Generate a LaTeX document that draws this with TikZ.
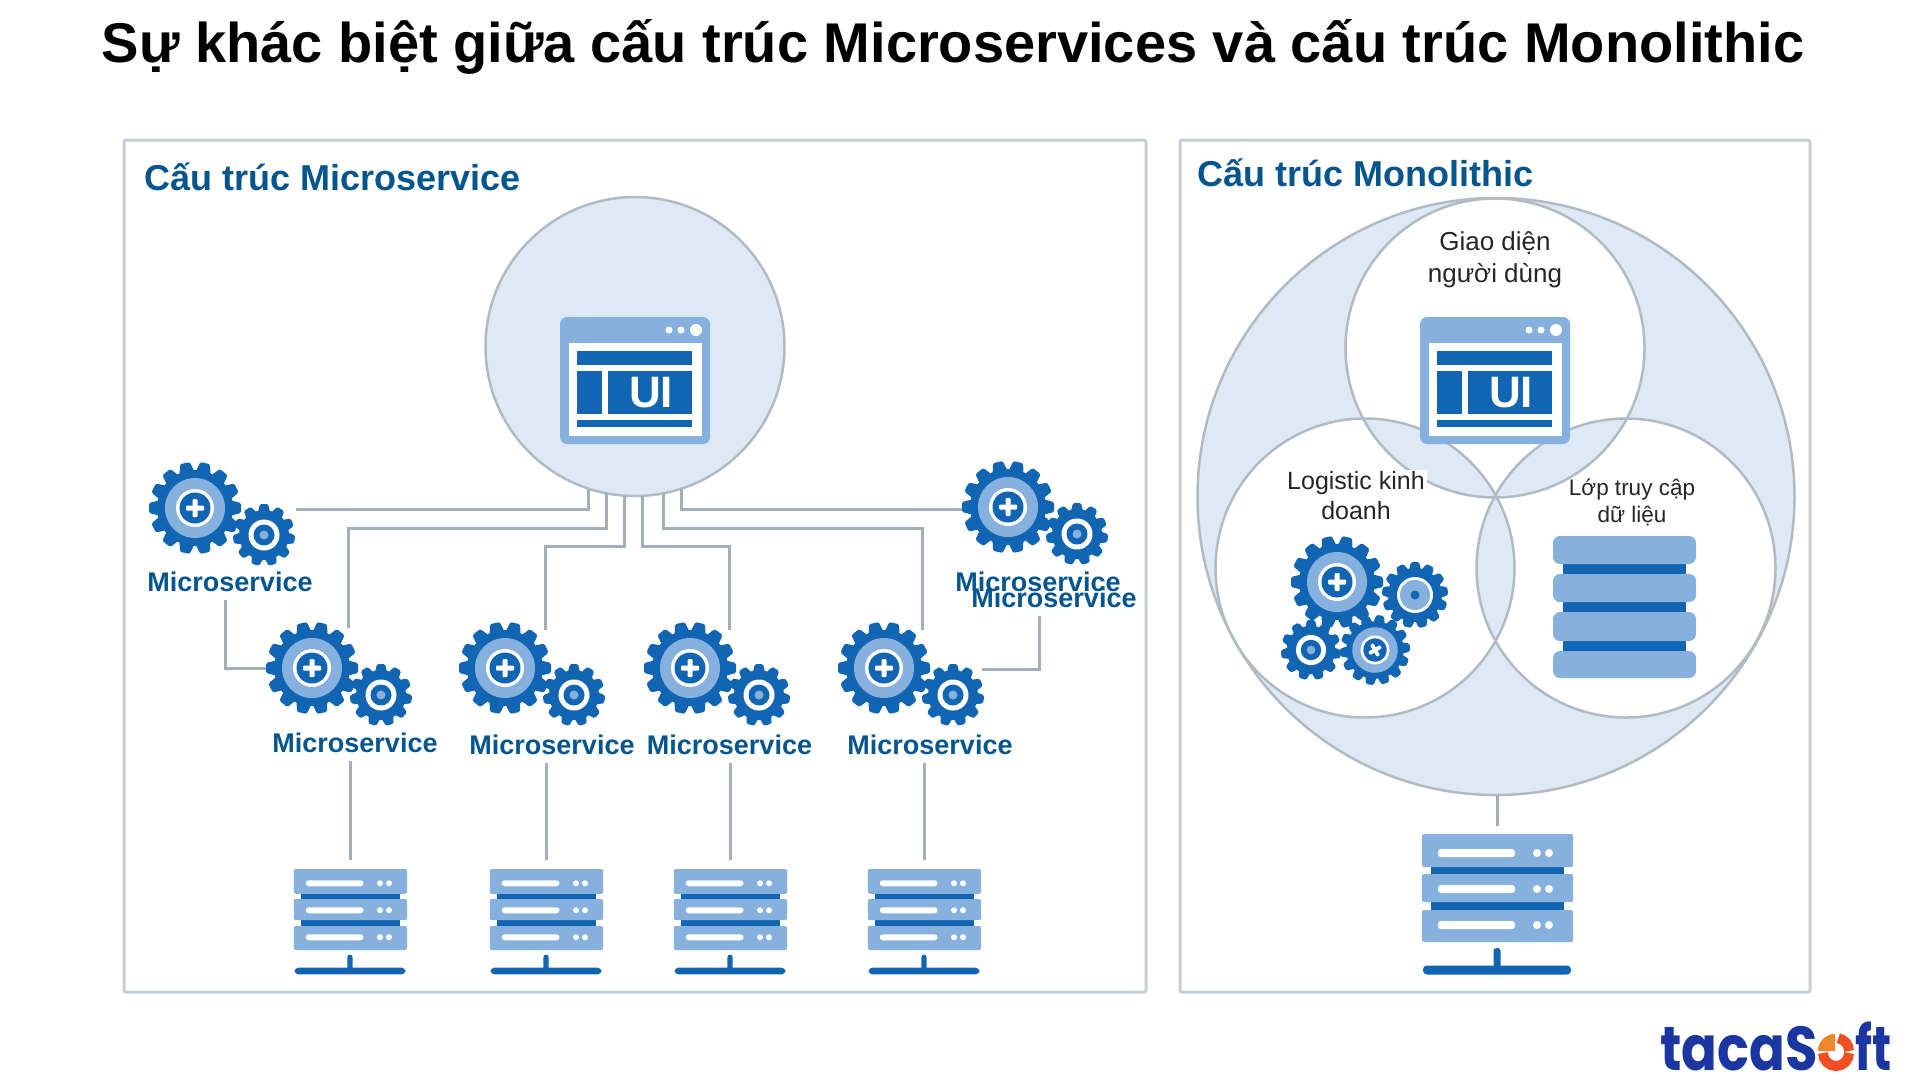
\documentclass[tikz,border=0pt]{standalone}
\usepackage{xcolor}
\usepackage{fontspec}
\setmainfont{Liberation Sans}
\newfontfamily\logofont{Poppins}
\usetikzlibrary{positioning, calc}
\definecolor{gearblue}{HTML}{1165B2}
\definecolor{lightblue}{HTML}{86B1DF}
\definecolor{paleblue}{HTML}{DDEAF5}
\definecolor{headblue}{HTML}{05558F}
\definecolor{linegray}{HTML}{A3AFBA}
\definecolor{framegray}{HTML}{C6CFD7}
\definecolor{logoblue}{HTML}{1B36A0}
\definecolor{logoorange}{HTML}{F0872A}
\definecolor{logored}{HTML}{F04E23}
\tikzset{
    panel/.style={draw=framegray, line width=3pt, fill=white, rounded corners=2pt},
    bubble/.style={circle, draw=linegray!85, line width=2.5pt, fill=paleblue, minimum size=299pt, inner sep=0pt, outer sep=0pt},
    link/.style={draw=linegray, line width=3pt},
    heading/.style={font=\fontsize{36}{42}\selectfont\bfseries, text=headblue, anchor=west, inner sep=0pt},
    mslabel/.style={font=\fontsize{27}{32}\selectfont\bfseries, text=headblue, minimum height=36pt, inner sep=0pt, outer sep=0pt},
    bodytext/.style={align=center, text=black!85, inner sep=2pt},
    gearspot/.style={circle, minimum size=92pt, inner sep=0pt, outer sep=0pt},
    srvspot/.style={minimum width=113pt, minimum height=130pt, inner sep=0pt, outer sep=0pt},
    logotext/.style={inner sep=0pt, text=logoblue, font=\logofont\fontsize{62}{62}\selectfont\bfseries},
    % big gear, radius 46
    biggear/.pic={
        \foreach \a in {0,25.71,...,340} {
            \fill[gearblue, rotate=\a+12.85, rounded corners=1.5pt] (-7.5,-36) -- (-5,-46) -- (5,-46) -- (7.5,-36) -- cycle;
        }
        \fill[gearblue] (0,0) circle[radius=38];
        \fill[lightblue] (0,0) circle[radius=30];
        \fill[white] (0,0) circle[radius=19];
        \fill[gearblue] (0,0) circle[radius=15.5];
        \fill[white, rounded corners=1pt] (-9,-2.5) rectangle (9,2.5);
        \fill[white, rounded corners=1pt] (-2.5,-9) rectangle (2.5,9);
    },
    % small gear, radius 31
    smallgear/.pic={
        \foreach \a in {0,32.73,...,340} {
            \fill[gearblue, rotate=\a, rounded corners=1.5pt] (-6,-23) -- (-4,-31) -- (4,-31) -- (6,-23) -- cycle;
        }
        \fill[gearblue] (0,0) circle[radius=25];
        \fill[white] (0,0) circle[radius=15.5];
        \fill[gearblue] (0,0) circle[radius=10.5];
        \fill[lightblue] (0,0) circle[radius=4.5];
    },
    % gear with the pale hub, radius 33
    hubgear/.pic={
        \foreach \a in {0,27.7,...,340} {
            \fill[gearblue, rotate=\a, rounded corners=1.5pt] (-6,-25) -- (-4,-33) -- (4,-33) -- (6,-25) -- cycle;
        }
        \fill[gearblue] (0,0) circle[radius=27];
        \fill[white] (0,0) circle[radius=18];
        \fill[lightblue] (0,0) circle[radius=15];
        \fill[gearblue] (0,0) circle[radius=4.5];
    },
    % the pair that goes with each label
    gearpair/.pic={
        \pic at (0,0) {biggear};
        \pic at (69,27) {smallgear};
    },
    uiicon/.pic={
        \fill[lightblue, rounded corners=7pt] (-75,0) rectangle (75,127);
        \fill[white] (-66,26) rectangle (67,119);
        \fill[gearblue] (-58,34) rectangle (57,48);
        \fill[gearblue] (-58,54) rectangle (-33,97);
        \fill[gearblue] (-27,54) rectangle (57,97);
        \fill[gearblue] (-58,103) rectangle (57,110);
        \fill[white] (34,13) circle[radius=3.5];
        \fill[white] (46,13) circle[radius=3.5];
        \fill[white] (61,13) circle[radius=6];
        \node[text=white, inner sep=0pt, font=\fontsize{44}{44}\selectfont\bfseries] (-txt) at (16,76) {UI};
    },
    serverstack/.pic={
        \fill[gearblue] (-66,31) rectangle (67,42);
        \fill[gearblue] (-66,66) rectangle (67,78);
        \foreach \top/\bot in {0/33, 40/68, 76/108} {
            \fill[lightblue, rounded corners=2pt] (-75,\top) rectangle (76,\bot);
        }
        \foreach \y in {19,55,91} {
            \fill[white, rounded corners=3pt] (-59,\y-4) rectangle (18,\y+4);
            \fill[white] (40,\y) circle[radius=4];
            \fill[white] (52,\y) circle[radius=4];
        }
        \fill[gearblue, rounded corners=3pt] (-3.5,114) rectangle (3.5,136);
        \fill[gearblue, rounded corners=4pt] (-74,131.5) rectangle (74,140.5);
    }
}

\begin{document}
\begin{tikzpicture}[x=1pt, y=-1pt]
    \useasboundingbox (0,0) rectangle (1920,1080);
    \fill[white] (0,0) rectangle (1920,1080);

    % Title
    \node[inner sep=0pt, font=\fontsize{56}{64}\selectfont\bfseries] (title) at (953,47) {Sự khác biệt giữa cấu trúc Microservices và cấu trúc Monolithic};

    % Panels
    \draw[panel] (124,140) rectangle (1146,992);
    \draw[panel] (1180,140) rectangle (1810,992);
    \node[heading] (headL) at (144,177) {Cấu trúc Microservice};
    \node[heading] (headR) at (1197,173) {Cấu trúc Monolithic};

    % Microservice side
    \node[bubble] (ui) at (635,346.5) {};
    \pic (uiL) at (635,317) {uiicon};

    \node[gearspot] (gearA) at (195,508) {}; \pic at (gearA) {gearpair};
    \node[gearspot] (gearB) at (312,668) {}; \pic at (gearB) {gearpair};
    \node[gearspot] (gearC) at (505,668) {}; \pic at (gearC) {gearpair};
    \node[gearspot] (gearD) at (690,668) {}; \pic at (gearD) {gearpair};
    \node[gearspot] (gearE) at (884,668) {}; \pic at (gearE) {gearpair};
    \node[gearspot] (gearF) at (1008,507) {}; \pic at (gearF) {gearpair};

    \node[mslabel] (msA) at (230,582) {Microservice};
    \node[mslabel] (msB) at (355,743) {Microservice};
    \node[mslabel] (msC) at (552,745) {Microservice};
    \node[mslabel] (msD) at (729.5,745) {Microservice};
    \node[mslabel] (msE) at (930,745) {Microservice};
    \node[mslabel] (msF) at (1038,582) {Microservice};
    \node[mslabel] (msG) at (1054,598) {Microservice};

    \node[srvspot] (srvA) at (350,925) {}; \pic[scale=0.75] at (350,869) {serverstack};
    \node[srvspot] (srvB) at (546,925) {}; \pic[scale=0.75] at (546,869) {serverstack};
    \node[srvspot] (srvC) at (730,925) {}; \pic[scale=0.75] at (730,869) {serverstack};
    \node[srvspot] (srvD) at (924,925) {}; \pic[scale=0.75] at (924,869) {serverstack};

    % Free ends of the links
    \coordinate (endA) at (296,509);
    \coordinate (endB) at (348,628);
    \coordinate (endC) at (545,630);
    \coordinate (endD) at (729,630);
    \coordinate (endE) at (922,630);
    \coordinate (endF) at (962,509);
    \coordinate (endG) at (982,669);

    \draw[link] (ui.252) |- (endA);
    \draw[link] (ui.259) -- ++(0,35) -| (endB);
    \draw[link] (ui.266) -- ++(0,51) -| (endC);
    \draw[link] (ui.273) -- ++(0,51) -| (endD);
    \draw[link] (ui.281) -- ++(0,35) -| (endE);
    \draw[link] (ui.288) |- (endF);
    \draw[link] ([xshift=-5pt]msA.south) |- (gearB.west);
    \draw[link] (endG) -| ([xshift=-15pt]msG.south);
    \draw[link] (srvA.north) -- (srvA.north |- msB.south);
    \draw[link] (srvB.north) -- (srvB.north |- msC.south);
    \draw[link] (srvC.north) -- (srvC.north |- msD.south);
    \draw[link] (srvD.north) -- (srvD.north |- msE.south);

    % Monolithic side
    \fill[paleblue, even odd rule] (1496,496.5) circle[radius=298.5] (1495,348) circle[radius=150]
        (1365,568) circle[radius=150] (1626,568) circle[radius=150];
    \node[bubble, fill=none, minimum size=597pt] (whole) at (1496,496.5) {};
    \node[bubble, fill=none] (top) at (1495,348) {};
    \node[bubble, fill=none] (left) at (1365,568) {};
    \node[bubble, fill=none] (right) at (1626,568) {};

    \node[bodytext, font=\fontsize{26}{32}\selectfont] (txtUI) at (1495,259.5) {Giao diện\\người dùng};
    \pic (uiR) at (1495,317) {uiicon};
    \node[bodytext, font=\fontsize{25}{30}\selectfont, fill=white] (txtBL) at (1356,496) {Logistic kinh\\doanh};
    \node[bodytext, font=\fontsize{22.5}{27}\selectfont] (txtDB) at (1632,502) {Lớp truy cập\\dữ liệu};

    \pic at (1337,582) {biggear};
    \pic at (1415,595) {hubgear};
    \pic[scale=0.97] at (1311,650) {smallgear};
    \pic[scale=0.76, rotate=30] at (1375,650) {biggear};

    % Database
    \foreach \top/\bot in {560/576, 600/614, 638/652} {
        \fill[gearblue] (1563,\top) rectangle (1686,\bot);
    }
    \foreach \top/\bot in {536/564, 574/602, 612/641, 651/678} {
        \fill[lightblue, rounded corners=7pt] (1553,\top) rectangle (1696,\bot);
    }

    \node[srvspot, minimum width=151pt, minimum height=150pt] (srvR) at (1497,901) {};
    \pic at (1497,834) {serverstack};
    \draw[link] (srvR.north) -- (srvR.north |- whole.south);

    % Logo
    \node[logotext, anchor=base east] (logoA) at (1818,1070) {\scalebox{0.85}[1]{tacaS}};
    \node[logotext, anchor=base west] (logoB) at (1855,1070) {\scalebox{0.76}[1]{ft}};
    \fill[logoorange] (1835,1051) -- (1818,1051) arc[start angle=180, end angle=270, radius=17] -- cycle;
    \draw[logored, line width=10pt] (1849,1051) arc[start angle=0, end angle=-80, radius=13];
    \draw[logored, line width=10pt] (1823,1053) arc[start angle=180, end angle=0, radius=13];
\end{tikzpicture}
\end{document}
